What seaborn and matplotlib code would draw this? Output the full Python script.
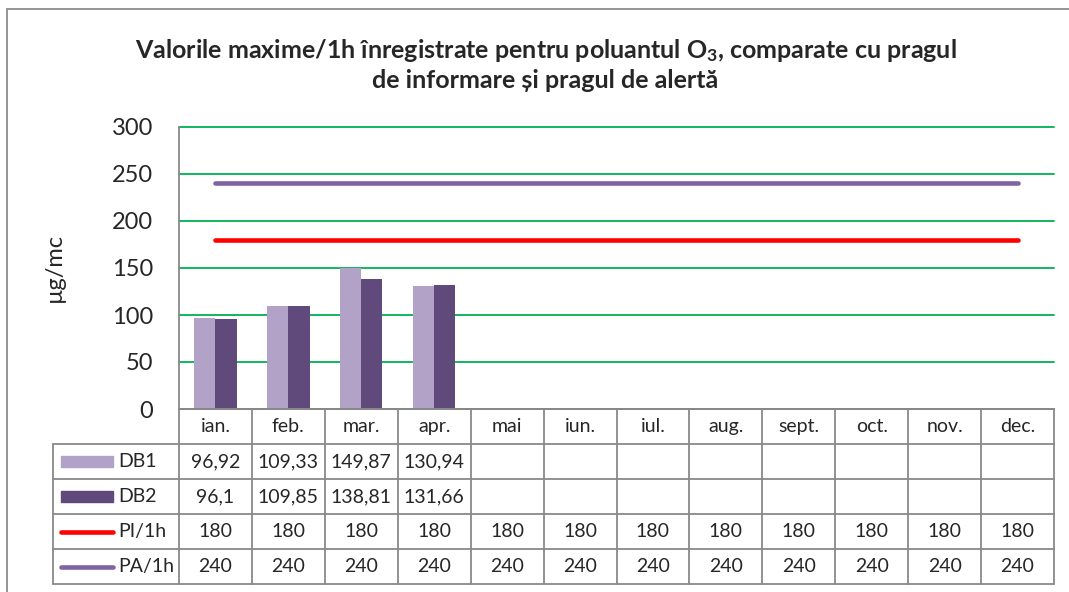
import numpy as np
import pandas as pd
import seaborn as sns
import matplotlib.pyplot as plt
from matplotlib.patches import Rectangle
from matplotlib.lines import Line2D

months = ["ian.", "feb.", "mar.", "apr.", "mai", "iun.", "iul.", "aug.", "sept.", "oct.", "nov.", "dec."]
db1 = [96.92, 109.33, 149.87, 130.94]
db2 = [96.1, 109.85, 138.81, 131.66]
pi_1h = [180, 180, 180, 180, 180, 180, 180, 180, 180, 180, 180, 180]
pa_1h = [240, 240, 240, 240, 240, 240, 240, 240, 240, 240, 240, 240]

c_db1 = "#B3A2C7"
c_db2 = "#604A7B"
c_pi = "#FF0000"
c_pa = "#8064A2"
c_grid = "#00B050"
c_line = "#898989"

sns.set_style("white")
plt.rcParams['font.family'] = ['Lato', 'DejaVu Sans']
# only the title uses mathtext (O3 subscript), keep it bold
plt.rcParams['mathtext.fontset'] = 'custom'
plt.rcParams['mathtext.rm'] = 'Lato:bold'
plt.rcParams['mathtext.default'] = 'rm'

bars = pd.DataFrame({
    "luna": months[:len(db1)] * 2,
    "val": db1 + db2,
    "serie": ["DB1"] * len(db1) + ["DB2"] * len(db2),
})

fig = plt.figure(figsize=(10.69, 5.92), dpi=100)
W, H = 1069, 592
ax = fig.add_axes([179 / W, 1 - 409 / H, 875 / W, 282 / H])
tab = fig.add_axes([179 / W, 1 - 584 / H, 875 / W, 175 / H])

sns.barplot(data=bars, x="luna", y="val", hue="serie", order=months,
            hue_order=["DB1", "DB2"], palette=[c_db1, c_db2], width=0.58,
            gap=0, saturation=1, legend=False, linewidth=0, ax=ax)
x = np.arange(len(months))
ax.plot(x, pi_1h, color=c_pi, lw=3.3, solid_capstyle="round")
ax.plot(x, pa_1h, color=c_pa, lw=3.3, solid_capstyle="round")

ax.set_xlim(-0.5, len(months) - 0.5)
ax.set_ylim(0, 300)
ax.set_yticks(range(0, 301, 50))
ax.set_xticks([])
ax.set_xlabel("")
ax.tick_params(axis="y", length=0, pad=18.5, labelsize=17)
ax.yaxis.grid(True, color=c_grid, lw=1.3)
for gl in ax.get_ygridlines():
    gl.set_clip_on(False)
ax.set_axisbelow(True)
for s in ["top", "right"]:
    ax.spines[s].set_visible(False)
for s in ["left", "bottom"]:
    ax.spines[s].set_color(c_line)
    ax.spines[s].set_linewidth(1.3)
ax.set_ylabel("µg/mc", fontsize=17)
ax.yaxis.set_label_coords(-0.13, 0.5)

fig.text(0.5103, 0.891,
         "Valorile maxime/1h înregistrate pentru poluantul O$_3$, comparate cu pragul\n"
         "de informare și pragul de alertă",
         ha="center", va="center", fontsize=18, fontweight="bold", linespacing=1.22)

# data table under the chart
tab.set_xlim(-0.5, len(months) - 0.5)
tab.set_ylim(5, 0)
tab.axis("off")
xl = -0.5 - 126 / (875 / 12)
kw = dict(color=c_line, lw=1.3, clip_on=False)
tab.plot([-0.5, len(months) - 0.5], [0, 0], **kw)
for r in range(1, 6):
    tab.plot([xl, len(months) - 0.5], [r, r], **kw)
for k in range(len(months) + 1):
    tab.plot([k - 0.5, k - 0.5], [0, 5], **kw)
tab.plot([xl, xl], [1, 5], **kw)

fmt = lambda v: f"{v:g}".replace(".", ",")
for i, m in enumerate(months):
    tab.text(i, 0.5, m, ha="center", va="center", fontsize=14)
rows = [("DB1", db1, c_db1, "bar"), ("DB2", db2, c_db2, "bar"),
        ("PI/1h", pi_1h, c_pi, "line"), ("PA/1h", pa_1h, c_pa, "line")]
kx0 = xl + 8 / (875 / 12)
kx1 = xl + 60 / (875 / 12)
for r, (name, vals, col, kind) in enumerate(rows, start=1):
    yc = r + 0.5
    for i, v in enumerate(vals):
        tab.text(i, yc, fmt(v), ha="center", va="center", fontsize=14)
    if kind == "bar":
        tab.add_patch(Rectangle((kx0, yc - 0.17), kx1 - kx0, 0.34, color=col, clip_on=False))
    else:
        tab.add_line(Line2D([kx0, kx1], [yc, yc], color=col, lw=3.3,
                            solid_capstyle="round", clip_on=False))
    tab.text(kx1 + 5 / (875 / 12), yc, name, ha="left", va="center", fontsize=14)

fig.add_artist(Rectangle((7 / W, -0.1), 1.2, 1.1 - 9 / H, transform=fig.transFigure,
                         fill=False, ec="#8c8c8c", lw=1.3))

fig.savefig("out.png", dpi=100)
